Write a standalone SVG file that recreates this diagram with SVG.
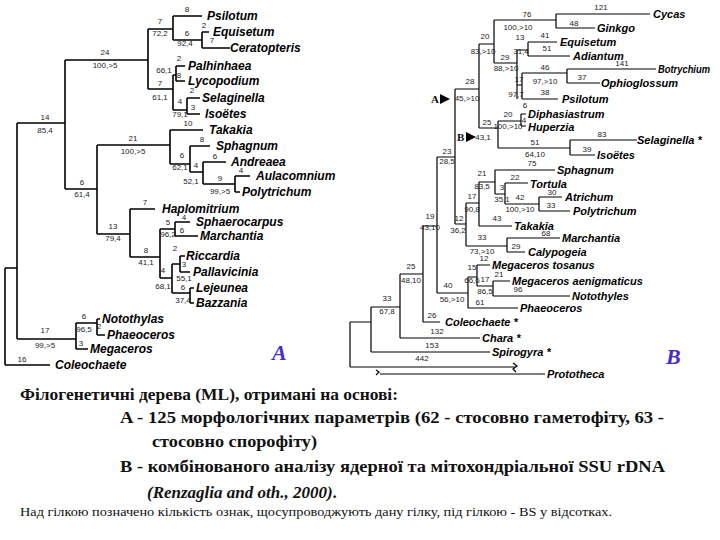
<svg xmlns="http://www.w3.org/2000/svg" width="720" height="540" viewBox="0 0 720 540">
<style>
.b{stroke:#000;stroke-width:1.6;fill:none}
.r{stroke:#000;stroke-width:1.2;fill:none}
.t{font-family:"Liberation Sans",Arial,sans-serif;font-size:12px;font-weight:bold;font-style:italic;fill:#000}
.u{font-family:"Liberation Sans",Arial,sans-serif;font-size:11px;font-weight:bold;font-style:italic;fill:#000}
.n{font-family:"Liberation Sans",Arial,sans-serif;font-size:8px;fill:#222;text-anchor:middle}
.c{font-family:"Liberation Serif","Times New Roman",serif;font-weight:bold;fill:#111}
.big{font-family:"Liberation Serif",serif;font-weight:bold;font-style:italic;font-size:22px;fill:#4a2bd0}
</style>
<rect width="720" height="540" fill="#fff"/>
<g id="connectors">
<path class="b" d="M17 123V339M5 268V365M65 60V189M148 29V89M173 16V40M202 32V48M173 75V110M176 66V81M187 98V114M97 145V234M170 130V164M190 146V172M203 162V184M235 176V192M130 209V257M160 229V278M175 222V236M172 264V293M180 256V272M190 288V303M76 323V349M97 319V335"/>
<path class="b" d="M17 123H65M65 60H148M148 29H173M173 16H202M173 40H202M202 32H209M202 48H230M148 89H173M173 75H176M176 66H185M176 81H185M173 110H187M187 98H200M187 114H200M65 189H97M97 145H170M170 130H203M170 164H190M190 146H210M190 172H203M203 162H226M203 184H235M235 176H250M235 192H240M97 234H130M130 209H155M130 257H160M160 229H175M175 222H190M175 236H198M160 278H172M172 264H180M180 256H185M180 272H190M172 293H190M190 288H194M190 303H194M17 339H76M76 323H97M97 319H100M97 335H105M76 349H88M5 365H50M5 268H17"/>
<path class="r" d="M350 322V367M371 307V352M400 274V338M423 226V322M437 157V293M455 89V224M479 44V128M494 20V63M556 14V28M517 50V99M528 42V56M522 73V99M567 69V83M498 121V148M521 114V126M570 140V155M466 203V246M479 182V226M495 170V194M505 183V204M539 197V211M507 238V252M468 277V308M477 265V286M493 281V296"/>
<path class="r" d="M350 322H371M350 367H515M371 307H400M371 352H490M400 274H423M400 338H480M423 226H437M423 322H440M437 157H455M437 293H468M455 89H479M455 224H466M479 44H494M479 128H498M494 20H556M494 63H517M556 14H650M556 28H595M517 50H528M528 42H557M528 56H570M517 85H522M522 73H567M567 69H656M567 83H600M522 99H558M498 121H521M521 114H526M521 126H526M498 148H570M570 140H637M570 155H595M466 203H479M466 246H507M479 182H495M479 226H512M495 170H555M495 194H505M505 183H528M505 204H539M539 197H562M539 211H570M507 238H560M507 252H525M468 277H477M468 308H518M477 265H490M477 286H493M493 281H510M493 296H570"/>
<path class="r" d="M513 363l4 3-4 3 3 3M376 370l3 2-3 3M380 374H545"/>
<path d="M440 94l10 5-10 5z M466 132l10 5-10 5z" fill="#000"/>
</g>
<g id="treeA-labels">
<text class="t" x="207" y="20">Psilotum</text>
<text class="t" x="213" y="36">Equisetum</text>
<text class="t" x="230" y="52">Ceratopteris</text>
<text class="t" x="188" y="70">Palhinhaea</text>
<text class="t" x="188" y="85">Lycopodium</text>
<text class="t" x="202" y="102">Selaginella</text>
<text class="t" x="205" y="118">Isoëtes</text>
<text class="t" x="209" y="134">Takakia</text>
<text class="t" x="216" y="150">Sphagnum</text>
<text class="t" x="231" y="166">Andreaea</text>
<text class="t" x="256" y="180">Aulacomnium</text>
<text class="t" x="242" y="196">Polytrichum</text>
<text class="t" x="162" y="213">Haplomitrium</text>
<text class="t" x="196" y="226">Sphaerocarpus</text>
<text class="t" x="200" y="240">Marchantia</text>
<text class="t" x="186" y="260">Riccardia</text>
<text class="t" x="193" y="276">Pallavicinia</text>
<text class="t" x="196" y="292">Lejeunea</text>
<text class="t" x="196" y="307">Bazzania</text>
<text class="t" x="102" y="323">Notothylas</text>
<text class="t" x="107" y="339">Phaeoceros</text>
<text class="t" x="90" y="353">Megaceros</text>
<text class="t" x="55" y="369">Coleochaete</text>
<g class="n">
<text x="187" y="12">8</text><text x="160" y="24">7</text><text x="160" y="36">72,2</text>
<text x="204" y="28">2</text><text x="187" y="36">6</text><text x="185" y="46">92,4</text><text x="212" y="43">7</text>
<text x="105" y="55">24</text><text x="105" y="68">100,>5</text>
<text x="179" y="61">2</text><text x="164" y="73">66,1</text><text x="179" y="78">8</text>
<text x="160" y="86">7</text><text x="160" y="100">61,1</text>
<text x="192" y="93">2</text><text x="180" y="104">4</text><text x="193" y="110">3</text><text x="180" y="117">79,1</text>
<text x="45" y="120">14</text><text x="45" y="133">85,4</text>
<text x="188" y="126">10</text><text x="133" y="141">21</text><text x="133" y="154">100,>5</text>
<text x="202" y="142">8</text><text x="182" y="158">6</text><text x="180" y="170">62,1</text>
<text x="215" y="159">6</text><text x="196" y="168">4</text><text x="191" y="184">52,1</text>
<text x="241" y="173">4</text><text x="220" y="181">9</text><text x="220" y="194">99,>5</text>
<text x="82" y="185">6</text><text x="82" y="197">61,4</text>
<text x="145" y="205">7</text><text x="113" y="229">13</text><text x="113" y="241">79,4</text>
<text x="168" y="225">5</text><text x="168" y="237">96,2</text><text x="184" y="220">4</text><text x="182" y="233">6</text>
<text x="146" y="253">8</text><text x="146" y="265">41,1</text>
<text x="175" y="251">2</text><text x="184" y="267">3</text><text x="184" y="281">55,1</text>
<text x="163" y="273">4</text><text x="163" y="289">68,1</text>
<text x="183" y="290">6</text><text x="183" y="303">37,4</text>
<text x="84" y="319">6</text><text x="84" y="332">96,5</text><text x="99" y="329">2</text>
<text x="45" y="333">17</text><text x="45" y="348">99,>5</text>
<text x="81" y="346">3</text><text x="22" y="362">16</text>
</g>
<text class="big" x="272" y="360">A</text>
</g>
<g id="treeB-labels">
<text class="u" x="653" y="18">Cycas</text>
<text class="u" x="597" y="32">Ginkgo</text>
<text class="u" x="560" y="46">Equisetum</text>
<text class="u" x="573" y="60">Adiantum</text>
<text class="u" x="658" y="73" textLength="52" lengthAdjust="spacingAndGlyphs">Botrychium</text>
<text class="u" x="601" y="87">Ophioglossum</text>
<text class="u" x="562" y="103">Psilotum</text>
<text class="u" x="528" y="118">Diphasiastrum</text>
<text class="u" x="528" y="131">Huperzia</text>
<text class="u" x="637" y="144">Selaginella *</text>
<text class="u" x="597" y="159">Isoëtes</text>
<text class="u" x="557" y="174" font-weight="normal">Sphagnum</text>
<text class="u" x="530" y="188">Tortula</text>
<text class="u" x="565" y="201">Atrichum</text>
<text class="u" x="573" y="215">Polytrichum</text>
<text class="u" x="514" y="230">Takakia</text>
<text class="u" x="562" y="242" font-weight="normal">Marchantia</text>
<text class="u" x="528" y="256">Calypogeia</text>
<text class="u" x="492" y="269">Megaceros tosanus</text>
<text class="u" x="512" y="285">Megaceros aenigmaticus</text>
<text class="u" x="572" y="300">Notothyles</text>
<text class="u" x="520" y="312" font-weight="normal">Phaeoceros</text>
<text class="u" x="445" y="326">Coleochaete *</text>
<text class="u" x="482" y="342">Chara *</text>
<text class="u" x="492" y="356">Spirogyra *</text>
<text class="u" x="547" y="378" font-size="10">Prototheca</text>
<text class="c" x="431" y="103" font-size="11">A</text>
<text class="c" x="457" y="141" font-size="11">B</text>
<g class="n">
<text x="601" y="10">121</text><text x="574" y="26">48</text><text x="527" y="17">76</text><text x="518" y="30">100,>10</text>
<text x="545" y="38">41</text><text x="520" y="40">13</text><text x="547" y="51">51</text><text x="521" y="54">31,4</text>
<text x="485" y="39">20</text><text x="483" y="54">83,>10</text><text x="505" y="60">29</text><text x="506" y="71">88,>10</text>
<text x="622" y="66">141</text><text x="545" y="70">46</text><text x="582" y="80">37</text><text x="545" y="84">97,>10</text>
<text x="519" y="82">17</text><text x="516" y="97">97,7</text><text x="545" y="95">38</text>
<text x="470" y="84">28</text><text x="467" y="101">45,>10</text>
<text x="525" y="108">6</text><text x="508" y="117">20</text><text x="508" y="129">100,>10</text><text x="524" y="123">4</text>
<text x="487" y="125">25</text><text x="483" y="140">43,1</text>
<text x="602" y="137">83</text><text x="535" y="145">51</text><text x="535" y="157">64,10</text><text x="587" y="152">39</text>
<text x="447" y="154">23</text><text x="447" y="164">28,5</text>
<text x="532" y="166">75</text><text x="482" y="176">21</text><text x="482" y="189">83,5</text>
<text x="515" y="180">22</text><text x="502" y="190">3</text><text x="502" y="202">35,1</text>
<text x="552" y="195">30</text><text x="520" y="200">42</text><text x="520" y="212">100,>10</text><text x="551" y="208">33</text>
<text x="472" y="199">17</text><text x="472" y="212">90,8</text><text x="497" y="221">43</text>
<text x="459" y="221">12</text><text x="458" y="233">36,2</text>
<text x="430" y="219">19</text><text x="430" y="230">43,10</text>
<text x="546" y="236">68</text><text x="482" y="240">33</text><text x="516" y="249">29</text><text x="482" y="254">73,>10</text>
<text x="484" y="261">12</text><text x="472" y="270">15</text><text x="499" y="277">21</text><text x="472" y="283">66,6</text>
<text x="485" y="282">17</text><text x="518" y="292">96</text><text x="485" y="294">86,5</text>
<text x="480" y="305">61</text><text x="448" y="288">40</text><text x="452" y="302">56,>10</text>
<text x="411" y="269">25</text><text x="411" y="283">48,10</text>
<text x="432" y="318">26</text><text x="437" y="334">132</text>
<text x="387" y="301">33</text><text x="387" y="314">67,8</text>
<text x="432" y="348">153</text><text x="422" y="361">442</text>
</g>
<text class="big" x="666" y="364">B</text>
</g>
<g id="caption">
<text class="c" x="20" y="400" font-size="17" textLength="378" lengthAdjust="spacingAndGlyphs">Філогенетичні дерева (ML), отримані на основі:</text>
<text class="c" x="120" y="423" font-size="17" textLength="544" lengthAdjust="spacingAndGlyphs">A - 125 морфологічних параметрів (62 - стосовно гаметофіту, 63 -</text>
<text class="c" x="152" y="447" font-size="17" textLength="165" lengthAdjust="spacingAndGlyphs">стосовно спорофіту)</text>
<text class="c" x="120" y="472" font-size="17" textLength="545" lengthAdjust="spacingAndGlyphs">B - комбінованого аналізу ядерної та мітохондріальної SSU rDNA</text>
<text class="c" x="147" y="498" font-size="17"><tspan font-style="italic">(Renzaglia and oth., 2000)</tspan>.</text>
<text x="20" y="516" font-family="Liberation Serif,serif" font-size="11.5" fill="#111" textLength="592" lengthAdjust="spacingAndGlyphs">Над гілкою позначено кількість ознак, щосупроводжують дану гілку, під гілкою - BS  у відсотках.</text>
</g>
</svg>
